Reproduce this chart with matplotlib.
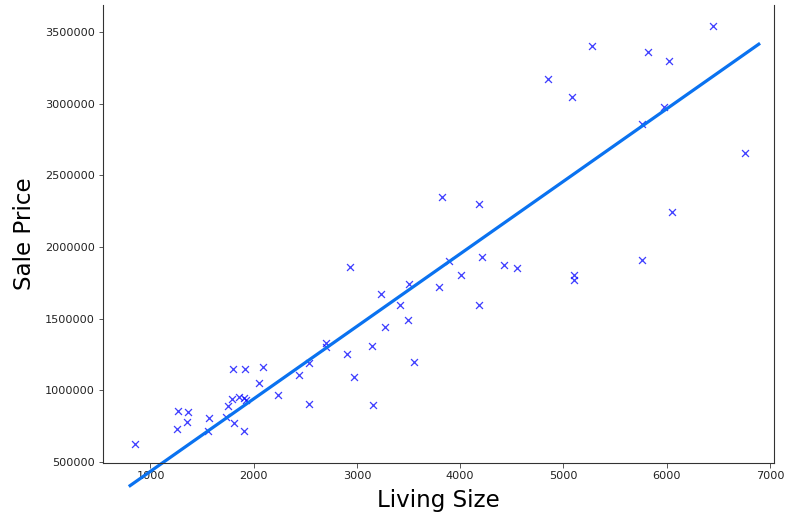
import matplotlib
matplotlib.use("Agg")
import matplotlib.pyplot as plt
import numpy as np

living_size = [848, 1268, 1364, 1255, 1351, 1571, 1558, 1754, 1735, 1806,
               1793, 1803, 1919, 2086, 2054, 1860, 1905, 1928, 1909, 2235,
               2434, 2538, 2538, 2702, 2702, 2902, 2973, 3159, 3150, 3272,
               3231, 2934, 3418, 3508, 3498, 3553, 3798, 3894, 4007, 4210,
               4181, 3821, 4181, 4426, 4555, 5103, 5103, 5761, 4852, 5084,
               5281, 5819, 6019, 6447, 5970, 5761, 6763, 6051]
sale_price = [627000, 858000, 849000, 730000, 781000, 807000, 713000, 890000, 811000, 769000,
              941000, 1151000, 1151000, 1160000, 1051000, 955000, 945000, 935000, 713000, 967000,
              1107000, 1190000, 907000, 1334000, 1302000, 1253000, 1093000, 900000, 1311000, 1439000,
              1674000, 1860000, 1597000, 1741000, 1488000, 1200000, 1725000, 1904000, 1802000, 1930000,
              1597000, 2348000, 2300000, 1876000, 1853000, 1802000, 1772000, 1911000, 3173000, 3050000,
              3404000, 3360000, 3301000, 3545000, 2980000, 2860000, 2659000, 2248000]

fit_slope = 506.0
fit_intercept = -71000.0
fit_x_range = [790, 6905]

dpi = 72
fig = plt.figure(figsize=(785 / dpi, 516 / dpi), dpi=dpi)
ax = fig.add_axes([103 / 785, 53 / 516, (774 - 103) / 785, (463 - 5) / 516])

ax.scatter(living_size, sale_price, marker='x', color='blue', alpha=0.75, s=48, linewidths=1.3)

fx = np.array(fit_x_range, dtype=float)
ax.plot(fx, fit_slope * fx + fit_intercept, color='#0a72f0', lw=3.2, clip_on=False,
        solid_capstyle='butt')

ax.set_xlim(540, 7040)
ax.set_ylim(493000, 3690000)
ax.set_xticks([1000, 2000, 3000, 4000, 5000, 6000, 7000])
ax.set_yticks([500000, 1000000, 1500000, 2000000, 2500000, 3000000, 3500000])
ax.ticklabel_format(style='plain', useOffset=False)
ax.tick_params(labelsize=11.3, colors='#333333', labelcolor='#222222', length=4.5)
ax.spines['top'].set_visible(False)
for s in ['left', 'right', 'bottom']:
    ax.spines[s].set_color('#333333')
    ax.spines[s].set_linewidth(1.1)

ax.set_xlabel('Living Size', fontsize=23, labelpad=8)
ax.set_ylabel('Sale Price', fontsize=23, labelpad=9)

fig.savefig('out.png', dpi=dpi)
